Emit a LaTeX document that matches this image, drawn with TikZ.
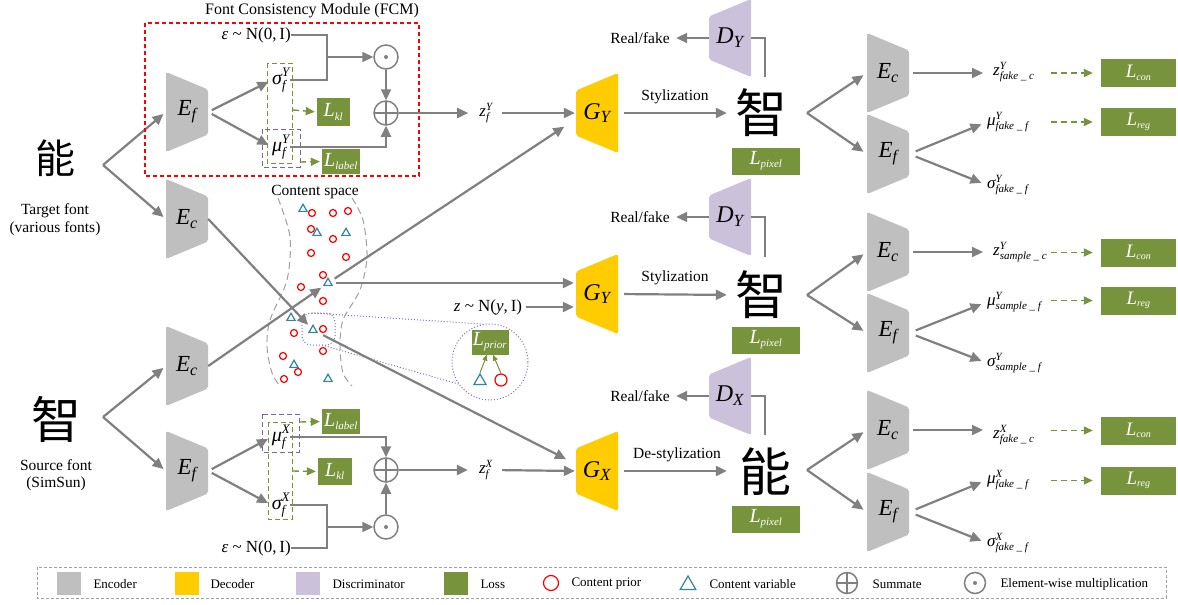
\documentclass[tikz,border=0pt]{standalone}
\usepackage{fontspec}
\setmainfont{Liberation Serif}
\newfontfamily\cjk{Noto Sans CJK SC}
\usetikzlibrary{arrows.meta,shapes.geometric}
\definecolor{egray}{RGB}{191,191,191}
\definecolor{dyel}{RGB}{255,204,0}
\definecolor{dpur}{RGB}{204,193,218}
\definecolor{lgreen}{RGB}{119,147,60}
\definecolor{agray}{RGB}{128,128,128}
\definecolor{tealc}{RGB}{49,133,156}
\definecolor{zpur}{RGB}{128,100,162}
\definecolor{dotc}{RGB}{125,115,200}
\definecolor{csgray}{RGB}{160,160,160}
\definecolor{fcmred}{RGB}{255,0,0}
\newcommand\fs[1]{\fontsize{#1}{#1}\selectfont}
\newcommand\Sym[5]{{\fs{#1}\itshape #3\ensuremath{^{\mbox{\fs{#2}\itshape #4}}_{\mbox{\fs{#2}\itshape #5}}}}}
\newcommand\Sb[4]{{\fs{#1}\itshape #3\ensuremath{_{\mbox{\fs{#2}\itshape #4}}}}}
\begin{document}
\begin{tikzpicture}[x=1pt,y=-1pt,font=\fs{15.5pt},
 arr/.style={draw=agray,line width=2.2pt,-{Triangle[length=11pt,width=10pt]}},
 ln/.style={draw=agray,line width=2.2pt},
 gdarr/.style={draw=lgreen,line width=1.4pt,dash pattern=on 6pt off 4pt,-{Triangle[length=9pt,width=8pt]}},
 garr/.style={draw=lgreen,line width=1pt,-{Triangle[length=6pt,width=5pt]}},
 gbox/.style={draw=lgreen,line width=1pt,dash pattern=on 5pt off 3pt},
 pbox/.style={draw=zpur,line width=1pt,dash pattern=on 5pt off 3pt},
 enc/.style={minimum width=42pt,minimum height=80pt,inner sep=0pt,
   path picture={\fill[egray,rounded corners=2pt] (path picture bounding box.north west) -- ([yshift=-17.5pt]path picture bounding box.north east) -- ([yshift=17.5pt]path picture bounding box.south east) -- (path picture bounding box.south west) -- cycle;}},
 rtrap/.style={minimum width=42pt,minimum height=80pt,inner sep=0pt,
   path picture={\fill[#1,rounded corners=2pt] ([yshift=-17.5pt]path picture bounding box.north west) -- (path picture bounding box.north east) -- (path picture bounding box.south east) -- ([yshift=17.5pt]path picture bounding box.south west) -- cycle;}},
 lossb/.style={fill=lgreen,text=white,inner sep=0pt},
 lab/.style={inner sep=0pt},
 opl/.style={circle,draw=agray,line width=1.5pt,minimum size=24pt,inner sep=0pt,
   path picture={\draw[agray,line width=1.5pt] (path picture bounding box.north) -- (path picture bounding box.south) (path picture bounding box.west) -- (path picture bounding box.east);}},
 odt/.style={circle,draw=agray,line width=1.5pt,minimum size=24pt,inner sep=0pt,
   path picture={\fill[agray] (path picture bounding box.center) circle (2pt);}},
 pc/.style={circle,draw=red,line width=1.2pt,minimum size=7pt,inner sep=0pt},
 tv/.style={regular polygon,regular polygon sides=3,draw=tealc,line width=1.2pt,minimum size=9.5pt,inner sep=0pt},
 cjkg/.style={font={\cjk\fs{#1}},inner sep=0pt}
]
\useasboundingbox (0,0) rectangle (1178,605);
\fill[white] (0,0) rectangle (1178,605);

% ---------- left inputs
\node[cjkg=40pt] (tgt) at (55,158) {能};
\node (tgtl1) at (55,211) {Target font};
\node (tgtl2) at (55,229) {(various fonts)};
\node[cjkg=50pt] (src) at (56,419) {智};
\node (srcl1) at (56,465) {Source font};
\node (srcl2) at (56,484) {(SimSun)};
\coordinate (b1) at (103,165);
\coordinate (b2) at (103,417);

\node[enc] (Ef1) at (187,112) {\Sb{23pt}{16pt}{E}{f}};
\node[enc] (Ec1) at (187,219) {\Sb{23pt}{16pt}{E}{c}};
\node[enc] (Ec2) at (187,366) {\Sb{23pt}{16pt}{E}{c}};
\node[enc] (Ef2) at (187,471) {\Sb{23pt}{16pt}{E}{f}};

\draw[arr,shorten >=3pt] (b1) -- (Ef1.west);
\draw[arr,shorten >=3pt] (b1) -- (Ec1.west);
\draw[arr,shorten >=3pt] (b2) -- (Ec2.west);
\draw[arr,shorten >=3pt] (b2) -- (Ef2.west);

% ---------- FCM (top)
\draw[draw=fcmred,line width=1.3pt,dash pattern=on 4pt off 3pt] (145,23) rectangle (419,176);
\node (fcmt) at (312,11) {\fs{16pt}Font Consistency Module (FCM)};
\node[lab,anchor=east] (eps1) at (291,35) {\fs{17pt}\textit{ε} \textasciitilde\ N(0,\,I)};
\node[lab] (sig1) at (281,80) {\Sym{20pt}{13pt}{σ}{Y}{f}};
\node[lab] (mu1) at (281,147) {\Sym{20pt}{13pt}{μ}{Y}{f}};
\draw[gbox] (267,63) rectangle (292,163);
\draw[pbox] (262,129) rectangle (300,167);
\node[lossb,minimum width=33pt,minimum height=28pt] (Lkl1) at (333.5,112) {\Sb{20pt}{11pt}{L}{kl}};
\node[lossb,minimum width=38pt,minimum height=25pt] (Llab1) at (341,161.5) {\Sb{20pt}{11pt}{L}{label}};
\coordinate (g1) at (293,110);
\coordinate (p1) at (300,162);
\draw[gdarr,shorten >=2pt] (g1) -- (Lkl1.west);
\draw[gdarr,shorten >=2pt] (p1) -- (Llab1.west);
\node[odt] (odot1) at (386,57) {};
\node[opl] (oplus1) at (386,113) {};
\coordinate (j1) at (327,57);
\draw[ln] (eps1.east) -| (j1);
\draw[ln] (sig1.east) -| (j1);
\draw[arr] (j1) -- (odot1.west);
\draw[arr] (odot1.south) -- (oplus1.north);
\draw[arr] (mu1.east) -| (oplus1.south);
\draw[arr,shorten <=4pt,shorten >=4pt] (Ef1.east) -- (sig1.west);
\draw[arr,shorten <=4pt,shorten >=4pt] (Ef1.east) -- (mu1.west);
\node[lab] (z1) at (486,113) {\Sym{17pt}{11pt}{z}{Y}{f}};
\draw[arr,shorten >=11pt] (oplus1.east) -- (z1.west);

% ---------- bottom VAE
\node[lab] (mu2) at (281,437) {\Sym{20pt}{13pt}{μ}{X}{f}};
\node[lab] (sig2) at (281,505) {\Sym{20pt}{13pt}{σ}{X}{f}};
\draw[gbox] (268,422) rectangle (292,519);
\draw[pbox] (262,414) rectangle (299,452);
\node[lossb,minimum width=38pt,minimum height=25pt] (Llab2) at (341,421.5) {\Sb{20pt}{11pt}{L}{label}};
\node[lossb,minimum width=34pt,minimum height=27pt] (Lkl2) at (335,471.5) {\Sb{20pt}{11pt}{L}{kl}};
\coordinate (p2) at (300,422);
\coordinate (g2) at (293,471);
\draw[gdarr,shorten >=2pt] (p2) -- (Llab2.west);
\draw[gdarr,shorten >=2pt] (g2) -- (Lkl2.west);
\node[opl] (oplus2) at (386,470) {};
\node[odt] (odot2) at (386,527) {};
\node[lab,anchor=east] (eps2) at (291,548) {\fs{17pt}\textit{ε} \textasciitilde\ N(0,\,I)};
\coordinate (j2) at (327,527);
\draw[ln] (sig2.east) -| (j2);
\draw[ln] (eps2.east) -| (j2);
\draw[arr] (j2) -- (odot2.west);
\draw[arr] (odot2.north) -- (oplus2.south);
\draw[arr] (mu2.east) -| (oplus2.north);
\draw[arr,shorten <=4pt,shorten >=4pt] (Ef2.east) -- (mu2.west);
\draw[arr,shorten <=4pt,shorten >=4pt] (Ef2.east) -- (sig2.west);
\node[lab] (z2) at (486,470) {\Sym{17pt}{11pt}{z}{X}{f}};
\draw[arr,shorten >=11pt] (oplus2.east) -- (z2.west);

% ---------- content space
\node (cst) at (315,192) {Content space};
\draw[csgray,line width=1pt,dash pattern=on 7pt off 4pt] plot[smooth] coordinates {(278,198) (290,237) (287,280) (270,320) (267,347) (272,373) (280,386)};
\draw[csgray,line width=1pt,dash pattern=on 7pt off 4pt] plot[smooth] coordinates {(352,198) (363,220) (367,257) (360,290) (343,320) (340,347) (343,373) (352,386)};
\foreach \p/\n in {{(312,213)}/c1,{(333,213)}/c2,{(348,211)}/c3,{(311,229)}/c4,{(333,239)}/c5,{(311,253)}/c6,{(346,257)}/c7,{(323,275)}/c8,{(301,287)}/c9,{(323,301)}/c10,{(294,333)}/c11,{(323,329)}/c12,{(323,351)}/c13,{(283,356)}/c14,{(298,372)}/c15,{(284,379)}/c16}
  \node[pc] (\n) at \p {};
\foreach \p/\n in {{(303,209)}/t1,{(317,233)}/t2,{(346,233)}/t3,{(291,318)}/t5,{(294,365)}/t7,{(328,379)}/t8}
  \node[tv] (\n) at \p {};
\node[tv] (tri4) at (328,283) {};
\node[tv] (tri6) at (313,330) {};

% zoom callout
\draw[dotc,dotted,line width=1pt,rounded corners=9pt] (302,313) rectangle (335,345);
\node[circle,draw=dotc,dotted,line width=1pt,minimum size=76pt,inner sep=0pt] (zc) at (490,362) {};
\coordinate (zt) at (312,313);
\coordinate (zb) at (322,345);
\draw[dotc,dotted,line width=1pt] (zt) -- (zc.100);
\draw[dotc,dotted,line width=1pt] (zb) -- (zc.215);
\node[lossb,minimum width=37pt,minimum height=25pt] (Lpr) at (490,342) {\Sb{20pt}{11pt}{L}{prior}};
\node[tv,minimum size=14pt] (ztri) at (480,381) {};
\node[pc,minimum size=12pt] (zcir) at (501,380) {};
\draw[garr] (ztri.north) -- ([xshift=-3pt]Lpr.south);
\draw[garr] (zcir.north) -- ([xshift=3pt]Lpr.south);

% ---------- decoders
\node[rtrap=dyel] (G1) at (597,113) {\Sb{24pt}{17pt}{G}{Y}};
\node[rtrap=dyel] (G2) at (597,294) {\Sb{24pt}{17pt}{G}{Y}};
\node[rtrap=dyel] (G3) at (597,471) {\Sb{24pt}{17pt}{G}{X}};

\draw[arr,shorten >=4pt] (Ec1.east) -- (tri6);
\draw[arr,shorten >=3pt] (Ec2.east) -- (tri4);
\draw[arr,shorten <=5pt,shorten >=3pt] (tri4) -- ([xshift=-9pt,yshift=-12pt]G1.west);
\draw[arr,shorten <=5pt,shorten >=2pt] (tri4) -- (tri4 -| G2.west);
\draw[arr,shorten <=6pt,shorten >=2pt] (tri6) -- ([xshift=-8pt,yshift=11pt]G3.west);
\draw[arr,shorten <=9pt,shorten >=1pt] (z1.east) -- (G1.west);
\draw[arr,shorten <=9pt,shorten >=1pt] (z2.east) -- (G3.west);
\node[lab] (zN) at (488,307) {\fs{17pt}\textit{z} \textasciitilde\ N(\textit{y},\,I)};
\draw[arr,shorten <=4pt,shorten >=2pt] (zN.east) -- (zN.east -| G2.west);

% ---------- discriminators and outputs
\node[rtrap=dpur,minimum height=78pt] (D1) at (730,38) {\Sb{24pt}{17pt}{D}{Y}};
\node[rtrap=dpur,minimum height=78pt] (D2) at (730,217) {\Sb{24pt}{17pt}{D}{Y}};
\node[rtrap=dpur,minimum height=78pt] (D3) at (730,396) {\Sb{24pt}{17pt}{D}{X}};
\node (rf1) at (640,38) {Real/fake};
\node (rf2) at (640,217) {Real/fake};
\node (rf3) at (640,396) {Real/fake};
\draw[arr,shorten >=3pt] (D1.west) -- (rf1.east);
\draw[arr,shorten >=3pt] (D2.west) -- (rf2.east);
\draw[arr,shorten >=3pt] (D3.west) -- (rf3.east);

\node[cjkg=52pt] (o1) at (761,113) {智};
\node[cjkg=52pt] (o2) at (761,295) {智};
\node[cjkg=52pt] (o3) at (765,472) {能};
\coordinate (t1) at (765,77);
\coordinate (t2) at (765,257);
\coordinate (t3) at (765,435);
\draw[ln] (t1) |- (D1.east);
\draw[ln] (t2) |- (D2.east);
\draw[ln] (t3) |- (D3.east);
\node (sty1) at (675,97) {Stylization};
\node (sty2) at (675,278) {Stylization};
\node (sty3) at (677,455) {De-stylization};
\draw[arr,shorten <=6pt,shorten >=8pt] (G1.east) -- (o1.west);
\draw[arr,shorten <=6pt,shorten >=8pt] (G2.east) -- (o2.west);
\draw[arr,shorten <=6pt,shorten >=12pt] (G3.east) -- (o3.west |- G3.east);
\node[lossb,minimum width=68pt,minimum height=27pt] (Lp1) at (766,161) {\Sb{20pt}{11pt}{L}{pixel}};
\node[lossb,minimum width=68pt,minimum height=27pt] (Lp2) at (766,340) {\Sb{20pt}{11pt}{L}{pixel}};
\node[lossb,minimum width=68pt,minimum height=27pt] (Lp3) at (766,519) {\Sb{20pt}{11pt}{L}{pixel}};

% ---------- re-encoders
\coordinate (bo1) at (807,113);
\coordinate (bo2) at (807,295);
\coordinate (bo3) at (807,470);
\node[enc] (Ec3) at (888,73) {\Sb{23pt}{16pt}{E}{c}};
\node[enc] (Ef3) at (888,154) {\Sb{23pt}{16pt}{E}{f}};
\node[enc] (Ec4) at (888,252) {\Sb{23pt}{16pt}{E}{c}};
\node[enc] (Ef4) at (888,333) {\Sb{23pt}{16pt}{E}{f}};
\node[enc] (Ec5) at (888,430) {\Sb{23pt}{16pt}{E}{c}};
\node[enc] (Ef5) at (888,512) {\Sb{23pt}{16pt}{E}{f}};
\foreach \b/\c/\f in {bo1/Ec3/Ef3,bo2/Ec4/Ef4,bo3/Ec5/Ef5}{
  \draw[arr,shorten >=4pt] (\b) -- (\c.west);
  \draw[arr,shorten >=4pt] (\b) -- (\f.west);
}
\node[lab,anchor=west] (zc1) at (993,72) {\Sym{17pt}{11pt}{z}{Y}{fake\ \_\ c}};
\node[lab,anchor=west] (mf1) at (987,122) {\Sym{17pt}{11pt}{μ}{Y}{fake\ \_\ f}};
\node[lab,anchor=west] (sf1) at (987,185) {\Sym{17pt}{11pt}{σ}{Y}{fake\ \_\ f}};
\node[lab,anchor=west] (zc2) at (993,252) {\Sym{17pt}{11pt}{z}{Y}{sample\ \_\ c}};
\node[lab,anchor=west] (mf2) at (987,302) {\Sym{17pt}{11pt}{μ}{Y}{sample\ \_\ f}};
\node[lab,anchor=west] (sf2) at (987,363) {\Sym{17pt}{11pt}{σ}{Y}{sample\ \_\ f}};
\node[lab,anchor=west] (zc3) at (993,435) {\Sym{17pt}{11pt}{z}{X}{fake\ \_\ c}};
\node[lab,anchor=west] (mf3) at (987,480) {\Sym{17pt}{11pt}{μ}{X}{fake\ \_\ f}};
\node[lab,anchor=west] (sf3) at (987,543) {\Sym{17pt}{11pt}{σ}{X}{fake\ \_\ f}};
\node[lossb,minimum width=75pt,minimum height=28pt] (Lc1) at (1138.5,73) {\Sb{19pt}{10pt}{L}{con}};
\node[lossb,minimum width=75pt,minimum height=28pt] (Lr1) at (1138.5,122) {\Sb{19pt}{10pt}{L}{reg}};
\node[lossb,minimum width=75pt,minimum height=28pt] (Lc2) at (1138.5,252.5) {\Sb{19pt}{10pt}{L}{con}};
\node[lossb,minimum width=75pt,minimum height=28pt] (Lr2) at (1138.5,300.5) {\Sb{19pt}{10pt}{L}{reg}};
\node[lossb,minimum width=75pt,minimum height=28pt] (Lc3) at (1138.5,430.5) {\Sb{19pt}{10pt}{L}{con}};
\node[lossb,minimum width=75pt,minimum height=28pt] (Lr3) at (1138.5,480.5) {\Sb{19pt}{10pt}{L}{reg}};
\foreach \c/\f/\z/\m/\s/\lc/\lr in {Ec3/Ef3/zc1/mf1/sf1/Lc1/Lr1,Ec4/Ef4/zc2/mf2/sf2/Lc2/Lr2,Ec5/Ef5/zc3/mf3/sf3/Lc3/Lr3}{
  \draw[arr,shorten <=4pt,shorten >=10pt] (\c.east) -- (\c.east -| \z.west);
  \draw[arr,shorten <=7pt,shorten >=6pt] (\f.east) -- (\m.west);
  \draw[arr,shorten <=7pt,shorten >=6pt] (\f.east) -- (\s.west);
  \draw[gdarr] ([xshift=-50pt]\lc.west) -- ([xshift=-8pt]\lc.west);
  \draw[gdarr] ([xshift=-50pt]\lr.west) -- ([xshift=-8pt]\lr.west);
}

% ---------- legend
\draw[csgray,line width=0.8pt,dash pattern=on 3pt off 2pt] (37,567) rectangle (1166,598);
\fill[egray] (57,572) rectangle (81,595);
\node[anchor=west,font=\fs{13pt}] (lg1) at (90,584) {Encoder};
\fill[dyel] (175,572) rectangle (199,595);
\node[anchor=west,font=\fs{13pt}] (lg2) at (207,584) {Decoder};
\fill[dpur] (296,572) rectangle (320,595);
\node[anchor=west,font=\fs{13pt}] (lg3) at (329,584) {Discriminator};
\fill[lgreen] (444,572) rectangle (468,595);
\node[anchor=west,font=\fs{13pt}] (lg4) at (477,584) {Loss};
\node[pc,minimum size=15pt] (lgc) at (551,583) {};
\node[anchor=west,font=\fs{13pt}] (lg5) at (568,584) {Content prior};
\node[tv,minimum size=18pt] (lgt) at (688,585) {};
\node[anchor=west,font=\fs{13pt}] (lg6) at (706,584) {Content variable};
\node[opl,minimum size=21pt] (lgo) at (847,583) {};
\node[anchor=west,font=\fs{13pt}] (lg7) at (869,584) {Summate};
\node[odt,minimum size=21pt] (lgd) at (975,583) {};
\node[anchor=west,font=\fs{13pt}] (lg8) at (997,584) {Element-wise multiplication};
\end{tikzpicture}
\end{document}
